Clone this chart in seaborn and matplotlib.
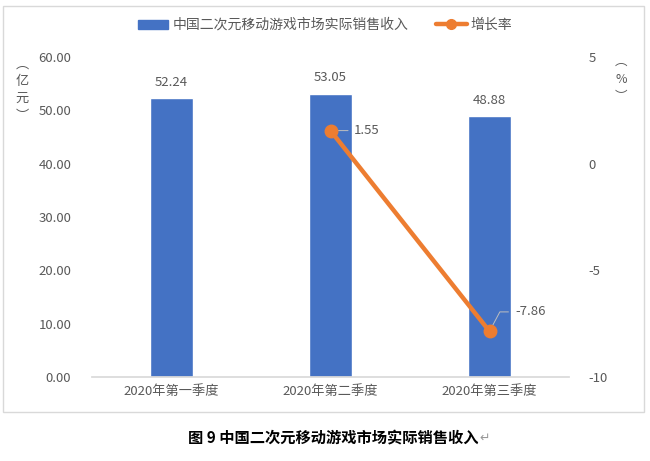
import numpy as np
import matplotlib
matplotlib.use('Agg')
import matplotlib.pyplot as plt
import seaborn as sns
from matplotlib.lines import Line2D
from matplotlib.patches import Patch, Rectangle

sns.set_theme(style='white')
plt.rcParams['font.family'] = ['Noto Sans CJK SC', 'DejaVu Sans']
plt.rcParams['axes.unicode_minus'] = False

# 数据
quarters = ['2020年第一季度', '2020年第二季度', '2020年第三季度']
revenue = [52.24, 53.05, 48.88]
growth = [np.nan, 1.55, -7.86]

bar_name = '中国二次元移动游戏市场实际销售收入'
line_name = '增长率'
caption = '图 9 中国二次元移动游戏市场实际销售收入'

blue = '#4472C4'
orange = '#ED7D31'
grey = '#595959'

fig = plt.figure(figsize=(6.5, 4.61), dpi=100)
ax = fig.add_axes([92/650, 1-377/461, 477/650, 320/461])

# 柱状图
sns.barplot(x=quarters, y=revenue, color=blue, width=0.27, saturation=1, ax=ax)
ax.bar_label(ax.containers[0], fmt='%.2f', padding=7, fontsize=9.5, color=grey)

ax.set_xlim(-0.5, 2.5)
ax.set_ylim(0, 60)
ax.set_yticks(np.arange(0, 61, 10))
ax.set_yticklabels([f'{v:.2f}' for v in np.arange(0, 61, 10)])
ax.set_xlabel('')
ax.set_ylabel('')
ax.tick_params(axis='y', length=0, pad=15, labelsize=9.5, labelcolor=grey)
ax.tick_params(axis='x', length=0, pad=6, labelsize=9.5, labelcolor=grey)
ax.set_xticks([-0.5, 0.5, 1.5, 2.5], minor=True)
ax.tick_params(axis='x', which='minor', length=4, color='#d9d9d9', width=0.8)
for s in ['left', 'top', 'right']:
    ax.spines[s].set_visible(False)
ax.spines['bottom'].set_color('#d9d9d9')

# 折线图（次坐标轴）
ax2 = ax.twinx()
ax2.plot(range(len(quarters)), growth, color=orange, lw=3.2, marker='o',
         markersize=9, solid_capstyle='round', zorder=5)
ax2.set_ylim(-10, 5)
ax2.set_yticks([5, 0, -5, -10])
ax2.tick_params(axis='y', length=0, pad=14, labelsize=9.5, labelcolor=grey)
for s in ax2.spines.values():
    s.set_visible(False)

# 数据标签
ax2.annotate('1.55', xy=(1, growth[1]), xytext=(17, 0), textcoords='offset points',
             fontsize=9.5, color=grey, va='center',
             arrowprops=dict(arrowstyle='-', color='#bfbfbf', lw=0.7, shrinkA=2, shrinkB=4,
                             relpos=(0, 0.5)))
ax2.annotate('-7.86', xy=(2, growth[2]), xytext=(19, 14), textcoords='offset points',
             fontsize=9.5, color=grey, va='center',
             arrowprops=dict(arrowstyle='-', color='#bfbfbf', lw=0.7, shrinkA=3, shrinkB=5,
                             relpos=(0, 0.5),
                             connectionstyle='angle,angleA=0,angleB=62,rad=0'))

# 坐标轴单位
fig.text(22/650, 1-90/461, '︵\n亿\n元\n︶', ha='center', va='center',
         fontsize=9.5, color=grey, linespacing=1.45)
fig.text(621/650, 1-79/461, '︵\n%\n︶', ha='center', va='center',
         fontsize=9, color=grey, linespacing=1.45)

# 图例
handles = [Patch(color=blue, label=bar_name),
           Line2D([0], [0], color=orange, lw=3.2, marker='o', markersize=7, label=line_name)]
fig.legend(handles=handles, loc='center', bbox_to_anchor=(0.5, 1-25/461), ncol=2,
           frameon=False, fontsize=10, labelcolor=grey, handlelength=2.2,
           handleheight=0.6, columnspacing=2.0, handletextpad=0.3)

# 图表边框
fig.patches.append(Rectangle((3/650, 1-412/461), 641/650, 406/461, transform=fig.transFigure,
                             fill=False, edgecolor='#d9d9d9', lw=1))

# 图题
fig.text(479/650, 1-438/461, caption, ha='right', va='center', fontsize=11,
         fontweight='bold', color='#000000')
fig.text(479/650, 1-438/461, '↵', ha='left', va='center', fontsize=9, color='#999999',
         family=['DejaVu Sans'])

fig.savefig('out.png', dpi=100)
